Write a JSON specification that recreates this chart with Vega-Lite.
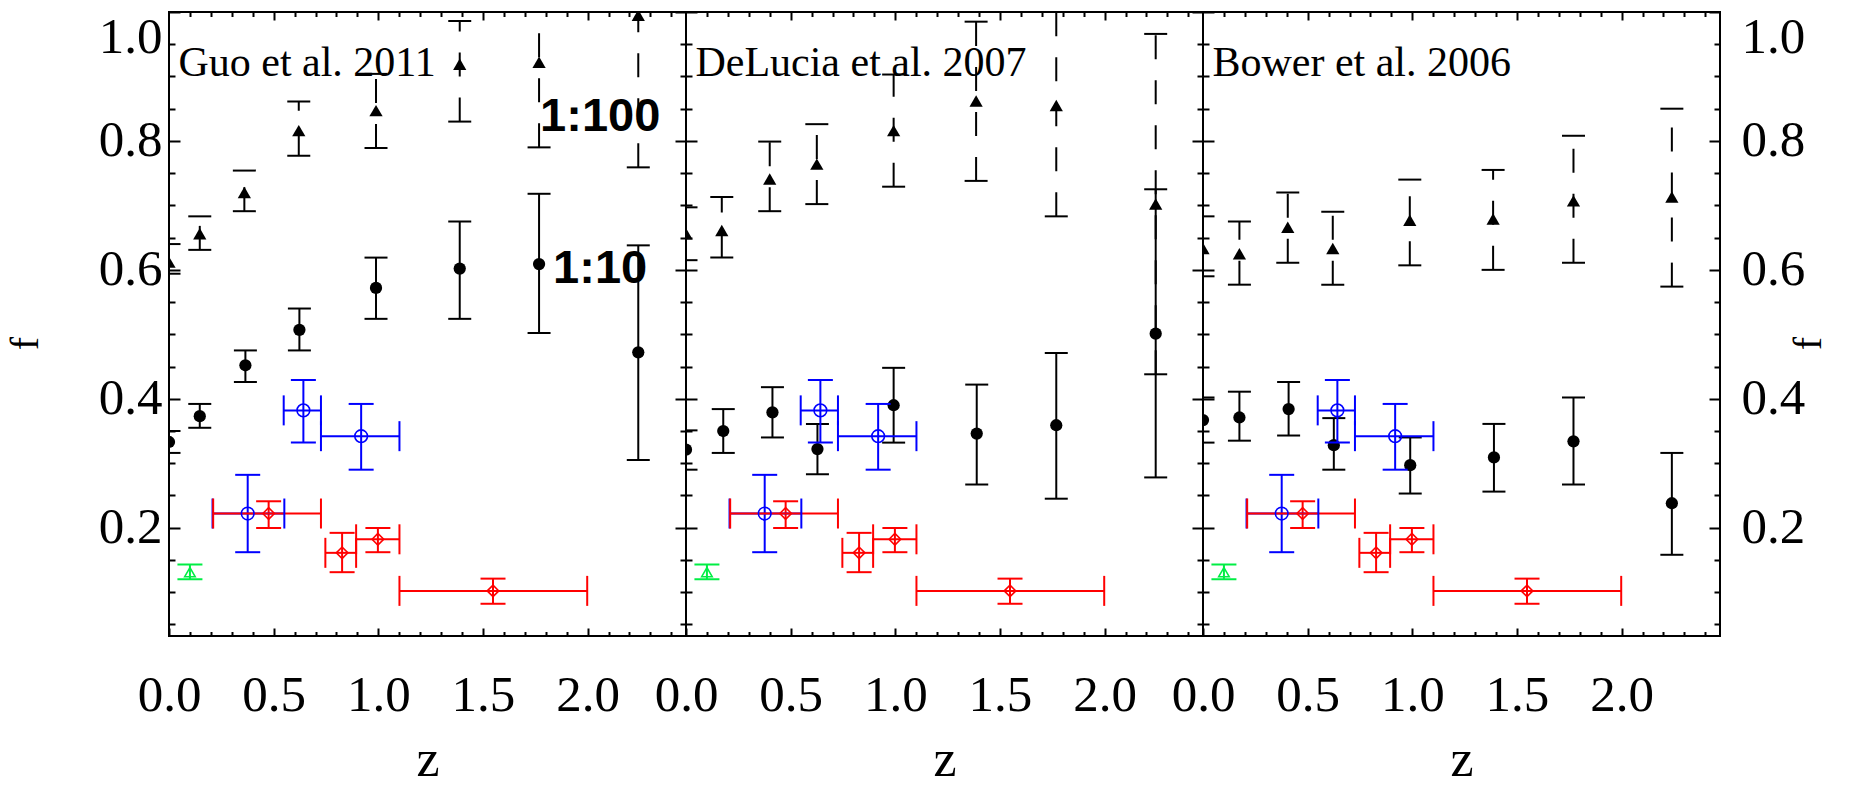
{
  "$schema": "https://vega.github.io/schema/vega-lite/v6.json",
  "background": "white",
  "padding": {"left": 4, "top": 10, "right": 0, "bottom": 0},
  "spacing": 0,
  "bounds": "flush",
  "datasets": {
    "models": [
      {"model":"Guo","series":"1:100","z":0,"f":0.612,"lo":0.594,"hi":0.64},
      {"model":"Guo","series":"1:100","z":0.147,"f":0.656,"lo":0.631,"hi":0.683},
      {"model":"Guo","series":"1:100","z":0.36,"f":0.72,"lo":0.691,"hi":0.754},
      {"model":"Guo","series":"1:100","z":0.62,"f":0.816,"lo":0.777,"hi":0.861},
      {"model":"Guo","series":"1:100","z":0.989,"f":0.847,"lo":0.789,"hi":0.904},
      {"model":"Guo","series":"1:100","z":1.389,"f":0.919,"lo":0.83,"hi":0.986},
      {"model":"Guo","series":"1:100","z":1.768,"f":0.922,"lo":0.79,"hi":1.03},
      {"model":"Guo","series":"1:100","z":2.242,"f":0.995,"lo":0.759,"hi":1.06},
      {"model":"Guo","series":"1:10","z":0,"f":0.333,"lo":0.316,"hi":0.35},
      {"model":"Guo","series":"1:10","z":0.147,"f":0.373,"lo":0.355,"hi":0.392},
      {"model":"Guo","series":"1:10","z":0.365,"f":0.452,"lo":0.426,"hi":0.475},
      {"model":"Guo","series":"1:10","z":0.623,"f":0.507,"lo":0.475,"hi":0.54},
      {"model":"Guo","series":"1:10","z":0.989,"f":0.572,"lo":0.524,"hi":0.619},
      {"model":"Guo","series":"1:10","z":1.389,"f":0.602,"lo":0.524,"hi":0.675},
      {"model":"Guo","series":"1:10","z":1.768,"f":0.609,"lo":0.502,"hi":0.718},
      {"model":"Guo","series":"1:10","z":2.242,"f":0.472,"lo":0.305,"hi":0.638},
      {"model":"DeLucia","series":"1:100","z":0,"f":0.656,"lo":0.615,"hi":0.697},
      {"model":"DeLucia","series":"1:100","z":0.171,"f":0.661,"lo":0.619,"hi":0.713},
      {"model":"DeLucia","series":"1:100","z":0.4,"f":0.741,"lo":0.691,"hi":0.799},
      {"model":"DeLucia","series":"1:100","z":0.625,"f":0.764,"lo":0.702,"hi":0.826},
      {"model":"DeLucia","series":"1:100","z":0.992,"f":0.816,"lo":0.729,"hi":0.903},
      {"model":"DeLucia","series":"1:100","z":1.386,"f":0.862,"lo":0.738,"hi":0.985},
      {"model":"DeLucia","series":"1:100","z":1.769,"f":0.855,"lo":0.683,"hi":1.03},
      {"model":"DeLucia","series":"1:100","z":2.244,"f":0.702,"lo":0.438,"hi":0.966},
      {"model":"DeLucia","series":"1:10","z":0,"f":0.321,"lo":0.29,"hi":0.351},
      {"model":"DeLucia","series":"1:10","z":0.178,"f":0.35,"lo":0.316,"hi":0.384},
      {"model":"DeLucia","series":"1:10","z":0.413,"f":0.379,"lo":0.34,"hi":0.418},
      {"model":"DeLucia","series":"1:10","z":0.628,"f":0.322,"lo":0.283,"hi":0.361},
      {"model":"DeLucia","series":"1:10","z":0.992,"f":0.39,"lo":0.332,"hi":0.448},
      {"model":"DeLucia","series":"1:10","z":1.389,"f":0.346,"lo":0.267,"hi":0.422},
      {"model":"DeLucia","series":"1:10","z":1.769,"f":0.359,"lo":0.245,"hi":0.471},
      {"model":"DeLucia","series":"1:10","z":2.244,"f":0.501,"lo":0.278,"hi":0.725},
      {"model":"Bower","series":"1:100","z":0,"f":0.633,"lo":0.59,"hi":0.683},
      {"model":"Bower","series":"1:100","z":0.174,"f":0.625,"lo":0.577,"hi":0.675},
      {"model":"Bower","series":"1:100","z":0.405,"f":0.666,"lo":0.611,"hi":0.72},
      {"model":"Bower","series":"1:100","z":0.62,"f":0.633,"lo":0.577,"hi":0.69},
      {"model":"Bower","series":"1:100","z":0.988,"f":0.677,"lo":0.607,"hi":0.74},
      {"model":"Bower","series":"1:100","z":1.386,"f":0.679,"lo":0.6,"hi":0.755},
      {"model":"Bower","series":"1:100","z":1.77,"f":0.707,"lo":0.611,"hi":0.808},
      {"model":"Bower","series":"1:100","z":2.24,"f":0.713,"lo":0.574,"hi":0.85},
      {"model":"Bower","series":"1:10","z":0,"f":0.367,"lo":0.332,"hi":0.402},
      {"model":"Bower","series":"1:10","z":0.174,"f":0.371,"lo":0.335,"hi":0.411},
      {"model":"Bower","series":"1:10","z":0.409,"f":0.384,"lo":0.343,"hi":0.426},
      {"model":"Bower","series":"1:10","z":0.625,"f":0.328,"lo":0.29,"hi":0.37},
      {"model":"Bower","series":"1:10","z":0.99,"f":0.297,"lo":0.253,"hi":0.34},
      {"model":"Bower","series":"1:10","z":1.39,"f":0.309,"lo":0.256,"hi":0.361},
      {"model":"Bower","series":"1:10","z":1.77,"f":0.334,"lo":0.267,"hi":0.402},
      {"model":"Bower","series":"1:10","z":2.24,"f":0.238,"lo":0.158,"hi":0.316}
    ],
    "obs": [
      {"kind":"blue","z":0.376,"f":0.222,"zlo":0.208,"zhi":0.551,"flo":0.162,"fhi":0.282},
      {"kind":"blue","z":0.642,"f":0.382,"zlo":0.548,"zhi":0.726,"flo":0.332,"fhi":0.429},
      {"kind":"blue","z":0.918,"f":0.342,"zlo":0.726,"zhi":1.101,"flo":0.29,"fhi":0.392},
      {"kind":"red","z":0.476,"f":0.222,"zlo":0.211,"zhi":0.726,"flo":0.1995,"fhi":0.241},
      {"kind":"red","z":0.827,"f":0.161,"zlo":0.747,"zhi":0.894,"flo":0.131,"fhi":0.192},
      {"kind":"red","z":0.998,"f":0.182,"zlo":0.894,"zhi":1.101,"flo":0.162,"fhi":0.1995},
      {"kind":"red","z":1.548,"f":0.102,"zlo":1.101,"zhi":1.998,"flo":0.082,"fhi":0.121},
      {"kind":"green","z":0.1,"f":0.131,"flo":0.12,"fhi":0.143}
    ]
  },
  "hconcat": [
    {
      "width": 517, "height": 624,
      "resolve": {"axis": {"x": "independent", "y": "independent"}, "scale": {"shape": "independent", "size": "independent", "color": "independent", "strokeDash": "independent"}},
      "layer": [
        {"data":{"name":"models"},"transform":[{"filter":"datum.model === 'Guo'"}],
         "mark":{"type":"rule","color":"black","strokeWidth":2,"clip":true},
         "encoding":{
           "x":{"field":"z","type":"quantitative","scale":{"domain":[0,2.47],"nice":false,"zero":false},
                "axis":{"orient":"bottom","values":[0,0.5,1,1.5,2],"format":".1f","tickSize":-8,"labelPadding":42,"labelFlush":false,"title":"z","titleFontSize":52,"titleY":139,"titleBaseline":"alphabetic"}},
           "y":{"field":"lo","type":"quantitative","scale":{"domain":[0.032,1],"nice":false,"zero":false},
                "axis":{"orient":"left","values":[0.2,0.4,0.6,0.8,1],"format":".1f","tickSize":-11,"labelPadding":18,"labelFlush":true,"title":"f","titleFontSize":40,"titleAngle":270,"titleX":-144,"titleY":331,"titleAlign":"center","titleBaseline":"middle"}},
           "y2":{"field":"hi"},
           "strokeDash":{"field":"series","type":"nominal","scale":{"domain":["1:10","1:100"],"range":[[1,0],[24,21]]},"legend":null}}},
        {"data":{"name":"models"},"transform":[{"filter":"datum.model === 'Guo'"}],
         "mark":{"type":"tick","orient":"horizontal","color":"black","thickness":2,"size":23,"opacity":1,"clip":true},
         "encoding":{
           "x":{"field":"z","type":"quantitative","scale":{"domain":[0,2.47],"nice":false,"zero":false},
                "axis":{"orient":"bottom","values":[0.1,0.2,0.3,0.4,0.6,0.7,0.8,0.9,1.1,1.2,1.3,1.4,1.6,1.7,1.8,1.9,2.1,2.2,2.3,2.4],"tickSize":-4.5,"labels":false,"title":null}},
           "y":{"field":"lo","type":"quantitative","scale":{"domain":[0.032,1],"nice":false,"zero":false},
                "axis":{"orient":"left","values":[0.05,0.1,0.15,0.25,0.3,0.35,0.45,0.5,0.55,0.65,0.7,0.75,0.85,0.9,0.95],"tickSize":-6,"labels":false,"title":null}}}},
        {"data":{"name":"models"},"transform":[{"filter":"datum.model === 'Guo'"}],
         "mark":{"type":"tick","orient":"horizontal","color":"black","thickness":2,"size":23,"opacity":1,"clip":true},
         "encoding":{
           "x":{"field":"z","type":"quantitative","scale":{"domain":[0,2.47],"nice":false,"zero":false},
                "axis":{"orient":"top","values":[0.5,1,1.5,2],"tickSize":-8,"labels":false,"title":null}},
           "y":{"field":"hi","type":"quantitative","scale":{"domain":[0.032,1],"nice":false,"zero":false},
                "axis":{"orient":"right","values":[0.2,0.4,0.6,0.8,1],"tickSize":-11,"labels":false,"title":null}}}},
        {"data":{"name":"models"},"transform":[{"filter":"datum.model === 'Guo'"}],
         "mark":{"type":"point","filled":true,"color":"black","opacity":1,"strokeWidth":0,"clip":true},
         "encoding":{
           "x":{"field":"z","type":"quantitative","scale":{"domain":[0,2.47],"nice":false,"zero":false},
                "axis":{"orient":"top","values":[0.1,0.2,0.3,0.4,0.6,0.7,0.8,0.9,1.1,1.2,1.3,1.4,1.6,1.7,1.8,1.9,2.1,2.2,2.3,2.4],"tickSize":-4.5,"labels":false,"title":null}},
           "y":{"field":"f","type":"quantitative","scale":{"domain":[0.032,1],"nice":false,"zero":false},
                "axis":{"orient":"right","values":[0.05,0.1,0.15,0.25,0.3,0.35,0.45,0.5,0.55,0.65,0.7,0.75,0.85,0.9,0.95],"tickSize":-6,"labels":false,"title":null}},
           "shape":{"field":"series","type":"nominal","scale":{"domain":["1:10","1:100"],"range":["circle","triangle-up"]},"legend":null},
           "size":{"field":"series","type":"nominal","scale":{"domain":["1:10","1:100"],"range":[150,175]},"legend":null}}},
        {"data":{"name":"obs"},
         "mark":{"type":"rule","strokeWidth":2,"opacity":1,"clip":true},
         "encoding":{
           "x":{"field":"z","type":"quantitative","scale":{"domain":[0,2.47],"nice":false,"zero":false},"axis":null},
           "y":{"field":"flo","type":"quantitative","scale":{"domain":[0.032,1],"nice":false,"zero":false},"axis":null},
           "y2":{"field":"fhi"},
           "color":{"field":"kind","type":"nominal","scale":{"domain":["blue","red","green"],"range":["#0000ff","#ff0000","#00ee44"]},"legend":null}}},
        {"data":{"name":"obs"},"transform":[{"filter":"isValid(datum.zlo)"}],
         "mark":{"type":"rule","strokeWidth":2,"opacity":1,"clip":true},
         "encoding":{
           "x":{"field":"zlo","type":"quantitative","scale":{"domain":[0,2.47],"nice":false,"zero":false},"axis":null},
           "x2":{"field":"zhi"},
           "y":{"field":"f","type":"quantitative","scale":{"domain":[0.032,1],"nice":false,"zero":false},"axis":null},
           "color":{"field":"kind","type":"nominal","scale":{"domain":["blue","red","green"],"range":["#0000ff","#ff0000","#00ee44"]},"legend":null}}},
        {"data":{"name":"obs"},
         "mark":{"type":"tick","orient":"horizontal","thickness":2,"size":25,"opacity":1,"clip":true},
         "encoding":{
           "x":{"field":"z","type":"quantitative","scale":{"domain":[0,2.47],"nice":false,"zero":false},"axis":null},
           "y":{"field":"flo","type":"quantitative","scale":{"domain":[0.032,1],"nice":false,"zero":false},"axis":null},
           "color":{"field":"kind","type":"nominal","scale":{"domain":["blue","red","green"],"range":["#0000ff","#ff0000","#00ee44"]},"legend":null}}},
        {"data":{"name":"obs"},
         "mark":{"type":"tick","orient":"horizontal","thickness":2,"size":25,"opacity":1,"clip":true},
         "encoding":{
           "x":{"field":"z","type":"quantitative","scale":{"domain":[0,2.47],"nice":false,"zero":false},"axis":null},
           "y":{"field":"fhi","type":"quantitative","scale":{"domain":[0.032,1],"nice":false,"zero":false},"axis":null},
           "color":{"field":"kind","type":"nominal","scale":{"domain":["blue","red","green"],"range":["#0000ff","#ff0000","#00ee44"]},"legend":null}}},
        {"data":{"name":"obs"},"transform":[{"filter":"isValid(datum.zlo)"}],
         "mark":{"type":"tick","orient":"vertical","thickness":2,"size":30,"opacity":1,"clip":true},
         "encoding":{
           "x":{"field":"zlo","type":"quantitative","scale":{"domain":[0,2.47],"nice":false,"zero":false},"axis":null},
           "y":{"field":"f","type":"quantitative","scale":{"domain":[0.032,1],"nice":false,"zero":false},"axis":null},
           "color":{"field":"kind","type":"nominal","scale":{"domain":["blue","red","green"],"range":["#0000ff","#ff0000","#00ee44"]},"legend":null}}},
        {"data":{"name":"obs"},"transform":[{"filter":"isValid(datum.zhi)"}],
         "mark":{"type":"tick","orient":"vertical","thickness":2,"size":30,"opacity":1,"clip":true},
         "encoding":{
           "x":{"field":"zhi","type":"quantitative","scale":{"domain":[0,2.47],"nice":false,"zero":false},"axis":null},
           "y":{"field":"f","type":"quantitative","scale":{"domain":[0.032,1],"nice":false,"zero":false},"axis":null},
           "color":{"field":"kind","type":"nominal","scale":{"domain":["blue","red","green"],"range":["#0000ff","#ff0000","#00ee44"]},"legend":null}}},
        {"data":{"name":"obs"},
         "mark":{"type":"point","filled":false,"strokeWidth":1.6,"opacity":1,"clip":true},
         "encoding":{
           "x":{"field":"z","type":"quantitative","scale":{"domain":[0,2.47],"nice":false,"zero":false},"axis":null},
           "y":{"field":"f","type":"quantitative","scale":{"domain":[0.032,1],"nice":false,"zero":false},"axis":null},
           "color":{"field":"kind","type":"nominal","scale":{"domain":["blue","red","green"],"range":["#0000ff","#ff0000","#00ee44"]},"legend":null},
           "shape":{"field":"kind","type":"nominal","scale":{"domain":["blue","red","green"],"range":["circle","diamond","triangle-up"]},"legend":null},
           "size":{"field":"kind","type":"nominal","scale":{"domain":["blue","red","green"],"range":[160,110,80]},"legend":null}}},
        {"data":{"values":[{"label":"Guo et al. 2011"}]},
         "mark":{"type":"text","font":"Liberation Serif","fontSize":42,"align":"left","baseline":"alphabetic","color":"black"},
         "encoding":{
           "x":{"datum":0.045,"type":"quantitative","scale":{"domain":[0,2.47],"nice":false,"zero":false},"axis":null},
           "y":{"datum":0.9,"type":"quantitative","scale":{"domain":[0.032,1],"nice":false,"zero":false},"axis":null},
           "text":{"field":"label"}}},
        {"data":{"values":[{"label":"1:100"}]},
         "mark":{"type":"text","font":"Liberation Sans","fontSize":47,"fontWeight":"bold","align":"left","baseline":"alphabetic","color":"black"},
         "encoding":{
           "x":{"datum":1.773,"type":"quantitative","scale":{"domain":[0,2.47],"nice":false,"zero":false},"axis":null},
           "y":{"datum":0.816,"type":"quantitative","scale":{"domain":[0.032,1],"nice":false,"zero":false},"axis":null},
           "text":{"field":"label"}}},
        {"data":{"values":[{"label":"1:10"}]},
         "mark":{"type":"text","font":"Liberation Sans","fontSize":47,"fontWeight":"bold","align":"left","baseline":"alphabetic","color":"black"},
         "encoding":{
           "x":{"datum":1.835,"type":"quantitative","scale":{"domain":[0,2.47],"nice":false,"zero":false},"axis":null},
           "y":{"datum":0.58,"type":"quantitative","scale":{"domain":[0.032,1],"nice":false,"zero":false},"axis":null},
           "text":{"field":"label"}}}
      ]
    },
    {
      "width": 517, "height": 624,
      "resolve": {"axis": {"x": "independent", "y": "independent"}, "scale": {"shape": "independent", "size": "independent", "color": "independent", "strokeDash": "independent"}},
      "layer": [
        {"data":{"name":"models"},"transform":[{"filter":"datum.model === 'DeLucia'"}],
         "mark":{"type":"rule","color":"black","strokeWidth":2,"clip":true},
         "encoding":{
           "x":{"field":"z","type":"quantitative","scale":{"domain":[0,2.47],"nice":false,"zero":false},
                "axis":{"orient":"bottom","values":[0,0.5,1,1.5,2],"format":".1f","tickSize":-8,"labelPadding":42,"labelFlush":false,"title":"z","titleFontSize":52,"titleY":139,"titleBaseline":"alphabetic"}},
           "y":{"field":"lo","type":"quantitative","scale":{"domain":[0.032,1],"nice":false,"zero":false},
                "axis":{"orient":"left","values":[0.2,0.4,0.6,0.8,1],"tickSize":-11,"labels":false,"title":null}},
           "y2":{"field":"hi"},
           "strokeDash":{"field":"series","type":"nominal","scale":{"domain":["1:10","1:100"],"range":[[1,0],[24,21]]},"legend":null}}},
        {"data":{"name":"models"},"transform":[{"filter":"datum.model === 'DeLucia'"}],
         "mark":{"type":"tick","orient":"horizontal","color":"black","thickness":2,"size":23,"opacity":1,"clip":true},
         "encoding":{
           "x":{"field":"z","type":"quantitative","scale":{"domain":[0,2.47],"nice":false,"zero":false},
                "axis":{"orient":"bottom","values":[0.1,0.2,0.3,0.4,0.6,0.7,0.8,0.9,1.1,1.2,1.3,1.4,1.6,1.7,1.8,1.9,2.1,2.2,2.3,2.4],"tickSize":-4.5,"labels":false,"title":null}},
           "y":{"field":"lo","type":"quantitative","scale":{"domain":[0.032,1],"nice":false,"zero":false},
                "axis":{"orient":"left","values":[0.05,0.1,0.15,0.25,0.3,0.35,0.45,0.5,0.55,0.65,0.7,0.75,0.85,0.9,0.95],"tickSize":-6,"labels":false,"title":null}}}},
        {"data":{"name":"models"},"transform":[{"filter":"datum.model === 'DeLucia'"}],
         "mark":{"type":"tick","orient":"horizontal","color":"black","thickness":2,"size":23,"opacity":1,"clip":true},
         "encoding":{
           "x":{"field":"z","type":"quantitative","scale":{"domain":[0,2.47],"nice":false,"zero":false},
                "axis":{"orient":"top","values":[0.5,1,1.5,2],"tickSize":-8,"labels":false,"title":null}},
           "y":{"field":"hi","type":"quantitative","scale":{"domain":[0.032,1],"nice":false,"zero":false},
                "axis":{"orient":"right","values":[0.2,0.4,0.6,0.8,1],"tickSize":-11,"labels":false,"title":null}}}},
        {"data":{"name":"models"},"transform":[{"filter":"datum.model === 'DeLucia'"}],
         "mark":{"type":"point","filled":true,"color":"black","opacity":1,"strokeWidth":0,"clip":true},
         "encoding":{
           "x":{"field":"z","type":"quantitative","scale":{"domain":[0,2.47],"nice":false,"zero":false},
                "axis":{"orient":"top","values":[0.1,0.2,0.3,0.4,0.6,0.7,0.8,0.9,1.1,1.2,1.3,1.4,1.6,1.7,1.8,1.9,2.1,2.2,2.3,2.4],"tickSize":-4.5,"labels":false,"title":null}},
           "y":{"field":"f","type":"quantitative","scale":{"domain":[0.032,1],"nice":false,"zero":false},
                "axis":{"orient":"right","values":[0.05,0.1,0.15,0.25,0.3,0.35,0.45,0.5,0.55,0.65,0.7,0.75,0.85,0.9,0.95],"tickSize":-6,"labels":false,"title":null}},
           "shape":{"field":"series","type":"nominal","scale":{"domain":["1:10","1:100"],"range":["circle","triangle-up"]},"legend":null},
           "size":{"field":"series","type":"nominal","scale":{"domain":["1:10","1:100"],"range":[150,175]},"legend":null}}},
        {"data":{"name":"obs"},
         "mark":{"type":"rule","strokeWidth":2,"opacity":1,"clip":true},
         "encoding":{
           "x":{"field":"z","type":"quantitative","scale":{"domain":[0,2.47],"nice":false,"zero":false},"axis":null},
           "y":{"field":"flo","type":"quantitative","scale":{"domain":[0.032,1],"nice":false,"zero":false},"axis":null},
           "y2":{"field":"fhi"},
           "color":{"field":"kind","type":"nominal","scale":{"domain":["blue","red","green"],"range":["#0000ff","#ff0000","#00ee44"]},"legend":null}}},
        {"data":{"name":"obs"},"transform":[{"filter":"isValid(datum.zlo)"}],
         "mark":{"type":"rule","strokeWidth":2,"opacity":1,"clip":true},
         "encoding":{
           "x":{"field":"zlo","type":"quantitative","scale":{"domain":[0,2.47],"nice":false,"zero":false},"axis":null},
           "x2":{"field":"zhi"},
           "y":{"field":"f","type":"quantitative","scale":{"domain":[0.032,1],"nice":false,"zero":false},"axis":null},
           "color":{"field":"kind","type":"nominal","scale":{"domain":["blue","red","green"],"range":["#0000ff","#ff0000","#00ee44"]},"legend":null}}},
        {"data":{"name":"obs"},
         "mark":{"type":"tick","orient":"horizontal","thickness":2,"size":25,"opacity":1,"clip":true},
         "encoding":{
           "x":{"field":"z","type":"quantitative","scale":{"domain":[0,2.47],"nice":false,"zero":false},"axis":null},
           "y":{"field":"flo","type":"quantitative","scale":{"domain":[0.032,1],"nice":false,"zero":false},"axis":null},
           "color":{"field":"kind","type":"nominal","scale":{"domain":["blue","red","green"],"range":["#0000ff","#ff0000","#00ee44"]},"legend":null}}},
        {"data":{"name":"obs"},
         "mark":{"type":"tick","orient":"horizontal","thickness":2,"size":25,"opacity":1,"clip":true},
         "encoding":{
           "x":{"field":"z","type":"quantitative","scale":{"domain":[0,2.47],"nice":false,"zero":false},"axis":null},
           "y":{"field":"fhi","type":"quantitative","scale":{"domain":[0.032,1],"nice":false,"zero":false},"axis":null},
           "color":{"field":"kind","type":"nominal","scale":{"domain":["blue","red","green"],"range":["#0000ff","#ff0000","#00ee44"]},"legend":null}}},
        {"data":{"name":"obs"},"transform":[{"filter":"isValid(datum.zlo)"}],
         "mark":{"type":"tick","orient":"vertical","thickness":2,"size":30,"opacity":1,"clip":true},
         "encoding":{
           "x":{"field":"zlo","type":"quantitative","scale":{"domain":[0,2.47],"nice":false,"zero":false},"axis":null},
           "y":{"field":"f","type":"quantitative","scale":{"domain":[0.032,1],"nice":false,"zero":false},"axis":null},
           "color":{"field":"kind","type":"nominal","scale":{"domain":["blue","red","green"],"range":["#0000ff","#ff0000","#00ee44"]},"legend":null}}},
        {"data":{"name":"obs"},"transform":[{"filter":"isValid(datum.zhi)"}],
         "mark":{"type":"tick","orient":"vertical","thickness":2,"size":30,"opacity":1,"clip":true},
         "encoding":{
           "x":{"field":"zhi","type":"quantitative","scale":{"domain":[0,2.47],"nice":false,"zero":false},"axis":null},
           "y":{"field":"f","type":"quantitative","scale":{"domain":[0.032,1],"nice":false,"zero":false},"axis":null},
           "color":{"field":"kind","type":"nominal","scale":{"domain":["blue","red","green"],"range":["#0000ff","#ff0000","#00ee44"]},"legend":null}}},
        {"data":{"name":"obs"},
         "mark":{"type":"point","filled":false,"strokeWidth":1.6,"opacity":1,"clip":true},
         "encoding":{
           "x":{"field":"z","type":"quantitative","scale":{"domain":[0,2.47],"nice":false,"zero":false},"axis":null},
           "y":{"field":"f","type":"quantitative","scale":{"domain":[0.032,1],"nice":false,"zero":false},"axis":null},
           "color":{"field":"kind","type":"nominal","scale":{"domain":["blue","red","green"],"range":["#0000ff","#ff0000","#00ee44"]},"legend":null},
           "shape":{"field":"kind","type":"nominal","scale":{"domain":["blue","red","green"],"range":["circle","diamond","triangle-up"]},"legend":null},
           "size":{"field":"kind","type":"nominal","scale":{"domain":["blue","red","green"],"range":[160,110,80]},"legend":null}}},
        {"data":{"values":[{"label":"DeLucia et al. 2007"}]},
         "mark":{"type":"text","font":"Liberation Serif","fontSize":42,"align":"left","baseline":"alphabetic","color":"black"},
         "encoding":{
           "x":{"datum":0.045,"type":"quantitative","scale":{"domain":[0,2.47],"nice":false,"zero":false},"axis":null},
           "y":{"datum":0.9,"type":"quantitative","scale":{"domain":[0.032,1],"nice":false,"zero":false},"axis":null},
           "text":{"field":"label"}}}
      ]
    },
    {
      "width": 517, "height": 624,
      "resolve": {"axis": {"x": "independent", "y": "independent"}, "scale": {"shape": "independent", "size": "independent", "color": "independent", "strokeDash": "independent"}},
      "layer": [
        {"data":{"name":"models"},"transform":[{"filter":"datum.model === 'Bower'"}],
         "mark":{"type":"rule","color":"black","strokeWidth":2,"clip":true},
         "encoding":{
           "x":{"field":"z","type":"quantitative","scale":{"domain":[0,2.47],"nice":false,"zero":false},
                "axis":{"orient":"bottom","values":[0,0.5,1,1.5,2],"format":".1f","tickSize":-8,"labelPadding":42,"labelFlush":false,"title":"z","titleFontSize":52,"titleY":139,"titleBaseline":"alphabetic"}},
           "y":{"field":"lo","type":"quantitative","scale":{"domain":[0.032,1],"nice":false,"zero":false},
                "axis":{"orient":"left","values":[0.2,0.4,0.6,0.8,1],"tickSize":-11,"labels":false,"title":null}},
           "y2":{"field":"hi"},
           "strokeDash":{"field":"series","type":"nominal","scale":{"domain":["1:10","1:100"],"range":[[1,0],[24,21]]},"legend":null}}},
        {"data":{"name":"models"},"transform":[{"filter":"datum.model === 'Bower'"}],
         "mark":{"type":"tick","orient":"horizontal","color":"black","thickness":2,"size":23,"opacity":1,"clip":true},
         "encoding":{
           "x":{"field":"z","type":"quantitative","scale":{"domain":[0,2.47],"nice":false,"zero":false},
                "axis":{"orient":"bottom","values":[0.1,0.2,0.3,0.4,0.6,0.7,0.8,0.9,1.1,1.2,1.3,1.4,1.6,1.7,1.8,1.9,2.1,2.2,2.3,2.4],"tickSize":-4.5,"labels":false,"title":null}},
           "y":{"field":"lo","type":"quantitative","scale":{"domain":[0.032,1],"nice":false,"zero":false},
                "axis":{"orient":"left","values":[0.05,0.1,0.15,0.25,0.3,0.35,0.45,0.5,0.55,0.65,0.7,0.75,0.85,0.9,0.95],"tickSize":-6,"labels":false,"title":null}}}},
        {"data":{"name":"models"},"transform":[{"filter":"datum.model === 'Bower'"}],
         "mark":{"type":"tick","orient":"horizontal","color":"black","thickness":2,"size":23,"opacity":1,"clip":true},
         "encoding":{
           "x":{"field":"z","type":"quantitative","scale":{"domain":[0,2.47],"nice":false,"zero":false},
                "axis":{"orient":"top","values":[0.5,1,1.5,2],"tickSize":-8,"labels":false,"title":null}},
           "y":{"field":"hi","type":"quantitative","scale":{"domain":[0.032,1],"nice":false,"zero":false},
                "axis":{"orient":"right","values":[0.2,0.4,0.6,0.8,1],"format":".1f","tickSize":-11,"labelPadding":32,"labelFlush":true,"title":"f","titleFontSize":40,"titleAngle":270,"titleX":88,"titleY":331,"titleAlign":"center","titleBaseline":"middle"}}}},
        {"data":{"name":"models"},"transform":[{"filter":"datum.model === 'Bower'"}],
         "mark":{"type":"point","filled":true,"color":"black","opacity":1,"strokeWidth":0,"clip":true},
         "encoding":{
           "x":{"field":"z","type":"quantitative","scale":{"domain":[0,2.47],"nice":false,"zero":false},
                "axis":{"orient":"top","values":[0.1,0.2,0.3,0.4,0.6,0.7,0.8,0.9,1.1,1.2,1.3,1.4,1.6,1.7,1.8,1.9,2.1,2.2,2.3,2.4],"tickSize":-4.5,"labels":false,"title":null}},
           "y":{"field":"f","type":"quantitative","scale":{"domain":[0.032,1],"nice":false,"zero":false},
                "axis":{"orient":"right","values":[0.05,0.1,0.15,0.25,0.3,0.35,0.45,0.5,0.55,0.65,0.7,0.75,0.85,0.9,0.95],"tickSize":-6,"labels":false,"title":null}},
           "shape":{"field":"series","type":"nominal","scale":{"domain":["1:10","1:100"],"range":["circle","triangle-up"]},"legend":null},
           "size":{"field":"series","type":"nominal","scale":{"domain":["1:10","1:100"],"range":[150,175]},"legend":null}}},
        {"data":{"name":"obs"},
         "mark":{"type":"rule","strokeWidth":2,"opacity":1,"clip":true},
         "encoding":{
           "x":{"field":"z","type":"quantitative","scale":{"domain":[0,2.47],"nice":false,"zero":false},"axis":null},
           "y":{"field":"flo","type":"quantitative","scale":{"domain":[0.032,1],"nice":false,"zero":false},"axis":null},
           "y2":{"field":"fhi"},
           "color":{"field":"kind","type":"nominal","scale":{"domain":["blue","red","green"],"range":["#0000ff","#ff0000","#00ee44"]},"legend":null}}},
        {"data":{"name":"obs"},"transform":[{"filter":"isValid(datum.zlo)"}],
         "mark":{"type":"rule","strokeWidth":2,"opacity":1,"clip":true},
         "encoding":{
           "x":{"field":"zlo","type":"quantitative","scale":{"domain":[0,2.47],"nice":false,"zero":false},"axis":null},
           "x2":{"field":"zhi"},
           "y":{"field":"f","type":"quantitative","scale":{"domain":[0.032,1],"nice":false,"zero":false},"axis":null},
           "color":{"field":"kind","type":"nominal","scale":{"domain":["blue","red","green"],"range":["#0000ff","#ff0000","#00ee44"]},"legend":null}}},
        {"data":{"name":"obs"},
         "mark":{"type":"tick","orient":"horizontal","thickness":2,"size":25,"opacity":1,"clip":true},
         "encoding":{
           "x":{"field":"z","type":"quantitative","scale":{"domain":[0,2.47],"nice":false,"zero":false},"axis":null},
           "y":{"field":"flo","type":"quantitative","scale":{"domain":[0.032,1],"nice":false,"zero":false},"axis":null},
           "color":{"field":"kind","type":"nominal","scale":{"domain":["blue","red","green"],"range":["#0000ff","#ff0000","#00ee44"]},"legend":null}}},
        {"data":{"name":"obs"},
         "mark":{"type":"tick","orient":"horizontal","thickness":2,"size":25,"opacity":1,"clip":true},
         "encoding":{
           "x":{"field":"z","type":"quantitative","scale":{"domain":[0,2.47],"nice":false,"zero":false},"axis":null},
           "y":{"field":"fhi","type":"quantitative","scale":{"domain":[0.032,1],"nice":false,"zero":false},"axis":null},
           "color":{"field":"kind","type":"nominal","scale":{"domain":["blue","red","green"],"range":["#0000ff","#ff0000","#00ee44"]},"legend":null}}},
        {"data":{"name":"obs"},"transform":[{"filter":"isValid(datum.zlo)"}],
         "mark":{"type":"tick","orient":"vertical","thickness":2,"size":30,"opacity":1,"clip":true},
         "encoding":{
           "x":{"field":"zlo","type":"quantitative","scale":{"domain":[0,2.47],"nice":false,"zero":false},"axis":null},
           "y":{"field":"f","type":"quantitative","scale":{"domain":[0.032,1],"nice":false,"zero":false},"axis":null},
           "color":{"field":"kind","type":"nominal","scale":{"domain":["blue","red","green"],"range":["#0000ff","#ff0000","#00ee44"]},"legend":null}}},
        {"data":{"name":"obs"},"transform":[{"filter":"isValid(datum.zhi)"}],
         "mark":{"type":"tick","orient":"vertical","thickness":2,"size":30,"opacity":1,"clip":true},
         "encoding":{
           "x":{"field":"zhi","type":"quantitative","scale":{"domain":[0,2.47],"nice":false,"zero":false},"axis":null},
           "y":{"field":"f","type":"quantitative","scale":{"domain":[0.032,1],"nice":false,"zero":false},"axis":null},
           "color":{"field":"kind","type":"nominal","scale":{"domain":["blue","red","green"],"range":["#0000ff","#ff0000","#00ee44"]},"legend":null}}},
        {"data":{"name":"obs"},
         "mark":{"type":"point","filled":false,"strokeWidth":1.6,"opacity":1,"clip":true},
         "encoding":{
           "x":{"field":"z","type":"quantitative","scale":{"domain":[0,2.47],"nice":false,"zero":false},"axis":null},
           "y":{"field":"f","type":"quantitative","scale":{"domain":[0.032,1],"nice":false,"zero":false},"axis":null},
           "color":{"field":"kind","type":"nominal","scale":{"domain":["blue","red","green"],"range":["#0000ff","#ff0000","#00ee44"]},"legend":null},
           "shape":{"field":"kind","type":"nominal","scale":{"domain":["blue","red","green"],"range":["circle","diamond","triangle-up"]},"legend":null},
           "size":{"field":"kind","type":"nominal","scale":{"domain":["blue","red","green"],"range":[160,110,80]},"legend":null}}},
        {"data":{"values":[{"label":"Bower et al. 2006"}]},
         "mark":{"type":"text","font":"Liberation Serif","fontSize":42,"align":"left","baseline":"alphabetic","color":"black"},
         "encoding":{
           "x":{"datum":0.045,"type":"quantitative","scale":{"domain":[0,2.47],"nice":false,"zero":false},"axis":null},
           "y":{"datum":0.9,"type":"quantitative","scale":{"domain":[0.032,1],"nice":false,"zero":false},"axis":null},
           "text":{"field":"label"}}}
      ]
    }
  ],
  "config": {
    "view": {"stroke": "black", "strokeWidth": 2, "fill": "white"},
    "axis": {"domain": false, "grid": false, "tickColor": "black", "tickWidth": 2, "labelFont": "Liberation Serif", "labelFontSize": 51, "labelColor": "black", "labelOverlap": false, "labelBound": false, "titleFont": "Liberation Serif", "titleFontWeight": "normal", "titleColor": "black"}
  }
}
